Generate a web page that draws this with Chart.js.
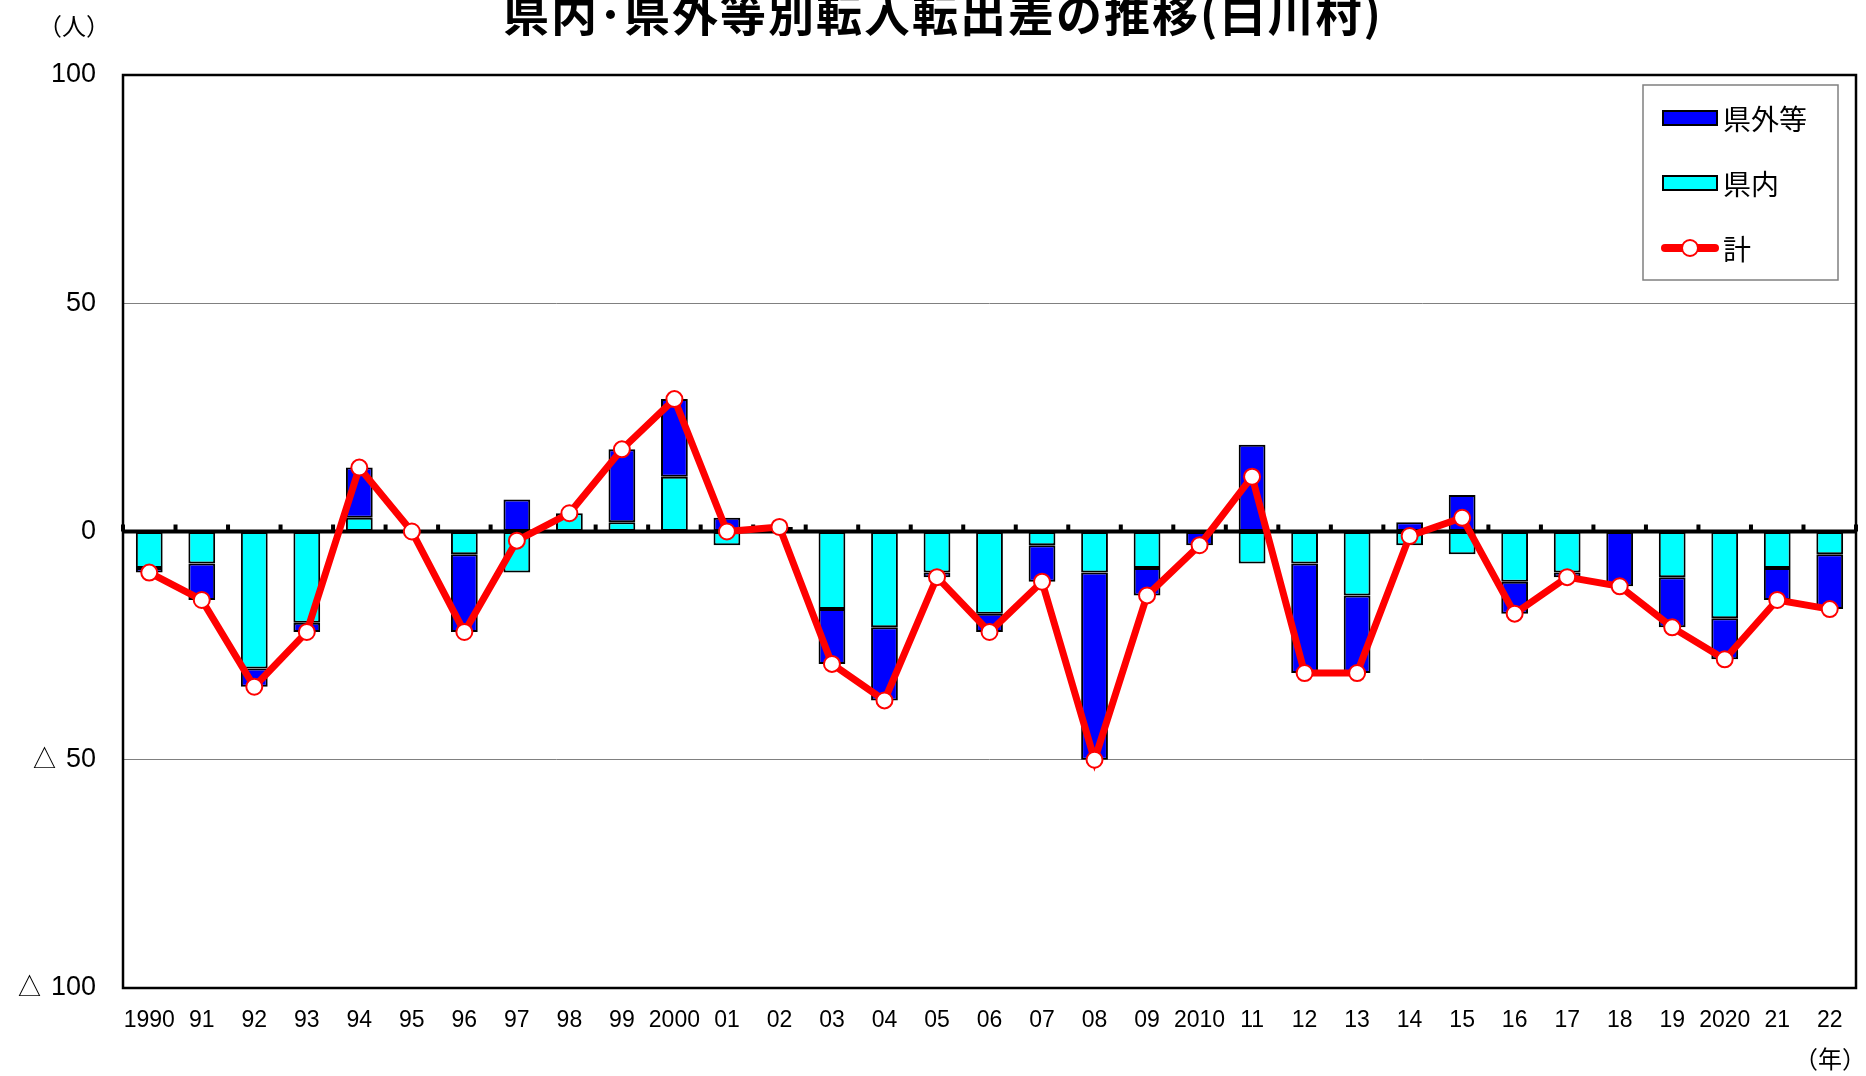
<!DOCTYPE html>
<html lang="ja">
<head>
<meta charset="utf-8">
<script src="https://cdn.jsdelivr.net/npm/chart.js@4.4.1/dist/chart.umd.min.js"></script>
<style>
  html, body { margin: 0; padding: 0; background: #fff; }
  canvas { display: block; }
</style>
</head>
<body>
<canvas id="myChart" width="1866" height="1076"></canvas>
<script>
// 年（ラベル）
let labels = ['1990', '91', '92', '93', '94', '95', '96', '97', '98', '99',
              '2000', '01', '02', '03', '04', '05', '06', '07', '08', '09',
              '2010', '11', '12', '13', '14', '15', '16', '17', '18', '19',
              '2020', '21', '22'];

// 県外等
let kengai = [-1, -8, -4, -2, 11, 0, -17, 7, 0, 16,
              17, 3, 1, -12, -16, -1, -4, -8, -41, -6,
              -3, 19, -24, -17, 2, 8, -7, -1, -12, -11,
              -9, -7, -12];

// 県内
let kennai = [-8, -7, -30, -20, 3, 0, -5, -9, 4, 2,
              12, -3, 0, -17, -21, -9, -18, -3, -9, -8,
              0, -7, -7, -14, -3, -5, -11, -9, 0, -10,
              -19, -8, -5];

// 計
let total = [-9, -15, -34, -22, 14, 0, -22, -2, 4, 18,
             29, 0, 1, -29, -37, -10, -22, -11, -50, -14,
             -3, 12, -31, -31, -1, 3, -18, -10, -12, -21,
             -28, -15, -17];

let yTicks = [-100, -50, 0, 50, 100];

const JP = '"Noto Sans CJK JP", "Noto Sans", sans-serif';
const NUM = '"Liberation Sans", Arial, sans-serif';

// 枠・0線・凡例・タイトル
const decor = {
    id: 'decor',
    beforeDatasetDraw(chart, args) {
        if (args.index !== 2) return;
        const { ctx, chartArea: a, scales: { x, y } } = chart;
        const y0 = y.getPixelForValue(0);
        const step = x.getPixelForValue(1) - x.getPixelForValue(0);
        ctx.save();
        ctx.fillStyle = '#000';
        ctx.fillRect(a.left, y0 - 2, a.right - a.left, 4);
        for (let i = 0; i <= labels.length; i++) {
            const px = x.getPixelForValue(0) - step / 2 + i * step;
            ctx.fillRect(px - 2, y0 - 7, 4, 7);
        }
        ctx.restore();
    },
    afterDraw(chart) {
        const { ctx, chartArea: a } = chart;
        const ds = chart.data.datasets;
        ctx.save();

        // plot frame
        ctx.strokeStyle = '#000';
        ctx.lineWidth = 2.5;
        ctx.strokeRect(a.left, a.top, a.right - a.left, a.bottom - a.top);

        // legend
        const bx = a.right - 213, by = a.top + 10, bw = 195, bh = 195;
        ctx.fillStyle = '#fff';
        ctx.fillRect(bx, by, bw, bh);
        ctx.strokeStyle = '#808080';
        ctx.lineWidth = 1.5;
        ctx.strokeRect(bx, by, bw, bh);
        const order = [1, 0, 2];
        order.forEach((di, k) => {
            const d = ds[di];
            const cy = by + 33 + k * 65;
            const sx = bx + 20, sw = 54;
            if (d.type === 'line') {
                ctx.strokeStyle = d.borderColor;
                ctx.lineWidth = 8;
                ctx.lineCap = 'round';
                ctx.beginPath();
                ctx.moveTo(sx + 2, cy);
                ctx.lineTo(sx + sw - 2, cy);
                ctx.stroke();
                ctx.fillStyle = d.pointBackgroundColor;
                ctx.strokeStyle = d.pointBorderColor;
                ctx.lineWidth = 2;
                ctx.beginPath();
                ctx.arc(sx + sw / 2, cy, 8, 0, Math.PI * 2);
                ctx.fill();
                ctx.stroke();
            } else {
                ctx.fillStyle = d.backgroundColor;
                ctx.fillRect(sx, cy - 7, sw, 14);
                ctx.strokeStyle = '#000';
                ctx.lineWidth = 2;
                ctx.strokeRect(sx, cy - 7, sw, 14);
            }
            ctx.fillStyle = '#000';
            ctx.font = '28px ' + JP;
            ctx.textAlign = 'left';
            ctx.textBaseline = 'middle';
            ctx.fillText(d.label, sx + sw + 6, cy + 1);
        });

        // titles
        ctx.fillStyle = '#000';
        ctx.textAlign = 'center';
        ctx.textBaseline = 'middle';
        ctx.font = 'bold 46px ' + JP;
        ctx.letterSpacing = '2px';
        ctx.fillText('県内･県外等別転入転出差の推移(白川村)', 943, 14);
        ctx.letterSpacing = '0px';
        ctx.font = '24px ' + JP;
        ctx.fillText('（人）', 74, 26);
        ctx.fillText('（年）', 1830, 1059);
        ctx.restore();
    }
};

let ctx = document.getElementById('myChart').getContext('2d');

let myChart = new Chart(ctx, {
    data: {
        labels: labels,
        datasets: [{
            type: 'bar',
            label: '県内',
            data: kennai,
            backgroundColor: '#00FFFF',
            borderColor: '#000',
            borderWidth: 2,
            borderSkipped: false,
            barPercentage: 0.51,
            categoryPercentage: 1
        }, {
            type: 'bar',
            label: '県外等',
            data: kengai,
            backgroundColor: '#0000FF',
            borderColor: '#000',
            borderWidth: 2,
            borderSkipped: false,
            barPercentage: 0.51,
            categoryPercentage: 1
        }, {
            type: 'line',
            label: '計',
            data: total,
            order: -1,
            borderColor: '#FF0000',
            borderWidth: 7,
            tension: 0,
            pointRadius: 8,
            pointBackgroundColor: '#FFFFFF',
            pointBorderColor: '#FF0000',
            pointBorderWidth: 2
        }]
    },
    options: {
        responsive: false,
        animation: false,
        layout: {
            padding: { top: 75, right: 10, left: 0, bottom: 0 }
        },
        plugins: {
            legend: { display: false },
            tooltip: { enabled: false },
            title: { display: false }
        },
        scales: {
            x: {
                stacked: true,
                grid: { display: false },
                border: { display: false },
                ticks: {
                    autoSkip: false,
                    maxRotation: 0,
                    padding: 11,
                    color: '#000',
                    font: { family: NUM, size: 23 }
                },
                afterFit: (scale) => { scale.height = 88; }
            },
            y: {
                stacked: true,
                min: -100,
                max: 100,
                afterBuildTicks: (scale) => {
                    scale.ticks = yTicks.map(v => ({ value: v }));
                },
                grid: {
                    drawTicks: false,
                    color: (c) => Math.abs(c.tick.value) === 50 ? '#808080' : 'rgba(0,0,0,0)',
                    lineWidth: 1
                },
                border: { display: false },
                ticks: {
                    padding: 27,
                    color: '#000',
                    font: { family: NUM, size: 27 },
                    callback: (v) => v < 0 ? '\u25B3 ' + Math.abs(v) : String(v)
                },
                afterFit: (scale) => { scale.width = 123; }
            }
        }
    },
    plugins: [decor]
});
</script>
</body>
</html>
